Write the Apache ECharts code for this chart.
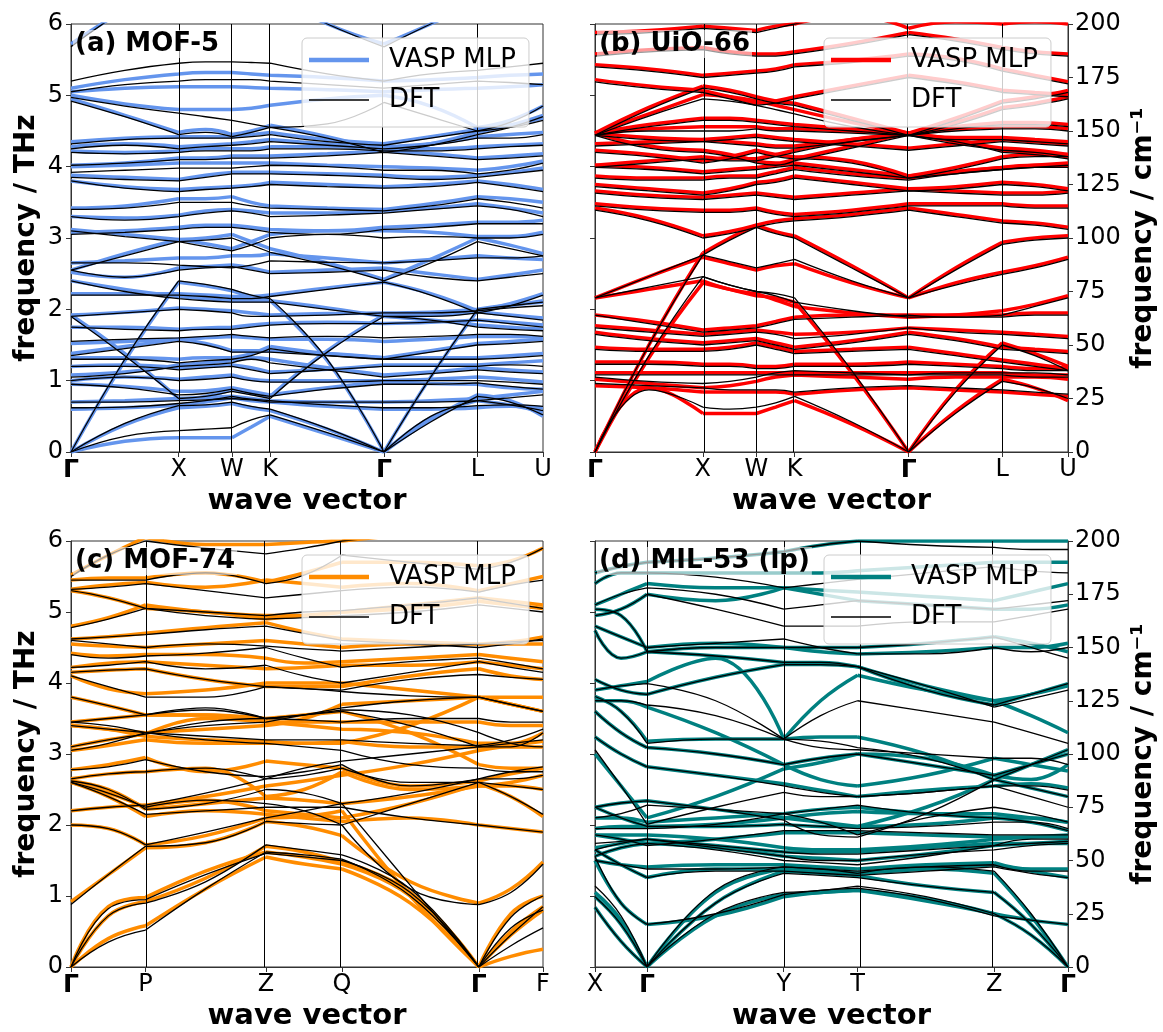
<!DOCTYPE html>
<html><head><meta charset="utf-8">
<script src="https://cdn.jsdelivr.net/npm/echarts@6/dist/echarts.min.js"></script>
<style>html,body{margin:0;padding:0;background:#fff}#c{width:1163px;height:1032px}</style>
</head><body><div id="c"></div>
<script>
// ---------- k-path (normalised path length) ----------
const kFCC = [0, 0.114, 0.228, 0.285, 0.341, 0.382, 0.422, 0.543, 0.663, 0.762, 0.861, 0.93, 1];
const hsFCC = [0, 0.228, 0.341, 0.422, 0.663, 0.861, 1];
const hsFCCLabels = ['Γ', 'X', 'W', 'K', 'Γ', 'L', 'U'];
const kMOF74 = [0, 0.079, 0.158, 0.285, 0.413, 0.494, 0.574, 0.719, 0.864, 0.932, 1];
const hsMOF74 = [0, 0.158, 0.413, 0.574, 0.864, 1];
const hsMOF74Labels = ['Γ', 'P', 'Z', 'Q', 'Γ', 'F'];
const kMIL53 = [0, 0.055, 0.110, 0.255, 0.399, 0.477, 0.555, 0.70, 0.844, 0.922, 1];
const hsMIL53 = [0, 0.110, 0.399, 0.555, 0.844, 1];
const hsMIL53Labels = ['X', 'Γ', 'Y', 'T', 'Z', 'Γ'];
const thzTicks = [0, 1, 2, 3, 4, 5, 6];
const cmTicks = [0, 25, 50, 75, 100, 125, 150, 175, 200];

// ---------- (a) MOF-5, THz ----------
const mof5DFT = [
[0,0.22,0.30,0.32,0.34,0.45,0.52,0.27,0,0.42,0.78,0.70,0.52],
[0,0.40,0.65,0.66,0.70,0.64,0.60,0.33,0,0.50,0.72,0.66,0.58],
[0.62,0.63,0.68,0.72,0.78,0.74,0.72,0.66,0.62,0.62,0.65,0.66,0.64],
[0.70,0.70,0.72,0.73,0.75,0.73,0.70,0.70,0.70,0.70,0.72,0.76,0.80],
[0,1.30,2.40,2.35,2.28,2.20,2.15,1.30,0,1.05,2.00,2.05,2.10],
[0.95,0.90,0.80,0.82,0.88,0.82,0.78,0.88,0.95,0.95,0.97,0.92,0.88],
[1.00,1.05,1.00,1.02,1.05,1.00,0.98,0.98,1.00,1.00,1.00,0.98,0.95],
[1.05,1.10,1.20,1.22,1.25,1.30,1.25,1.15,1.05,1.10,1.15,1.12,1.10],
[1.20,1.20,1.15,1.18,1.20,1.15,1.10,1.15,1.20,1.20,1.20,1.22,1.20],
[1.30,1.30,1.25,1.28,1.30,1.35,1.45,1.35,1.30,1.30,1.30,1.32,1.35],
[1.35,1.45,1.55,1.50,1.40,1.40,1.40,1.35,1.30,1.40,1.50,1.52,1.55],
[1.90,1.35,0.75,0.78,0.85,0.80,0.75,1.40,1.90,1.90,1.95,1.90,1.85],
[1.55,1.58,1.60,1.62,1.65,1.62,1.60,1.62,1.60,1.62,1.65,1.65,1.62],
[1.75,1.72,1.70,1.72,1.72,1.75,1.78,1.80,1.80,1.82,1.85,1.80,1.75],
[1.90,1.95,2.00,1.98,1.95,1.90,1.90,1.92,1.95,1.95,1.98,2.02,2.05],
[2.40,2.25,2.15,2.12,2.10,2.10,2.10,2.00,1.90,1.85,1.75,1.72,1.70],
[2.20,2.20,2.20,2.18,2.15,2.15,2.18,2.28,2.38,2.20,1.95,2.05,2.20],
[2.55,2.45,2.55,2.58,2.60,2.55,2.50,2.52,2.55,2.45,2.40,2.45,2.50],
[2.65,2.65,2.62,2.60,2.58,2.62,2.68,2.66,2.65,2.68,2.72,2.72,2.75],
[2.55,2.75,2.95,2.97,3.00,2.90,2.80,2.62,2.40,2.65,2.95,2.85,2.75],
[3.10,3.02,2.95,2.88,2.82,2.90,3.00,3.05,3.00,3.02,3.00,3.00,3.05],
[3.05,3.08,3.12,3.15,3.15,3.12,3.08,3.05,3.12,3.15,3.20,3.20,3.20],
[3.30,3.25,3.30,3.35,3.38,3.35,3.30,3.32,3.35,3.40,3.45,3.40,3.30],
[3.40,3.42,3.50,3.50,3.50,3.45,3.42,3.40,3.38,3.45,3.55,3.50,3.42],
[3.80,3.70,3.65,3.68,3.70,3.72,3.75,3.72,3.70,3.72,3.78,3.72,3.65],
[3.85,3.82,3.80,3.85,3.90,3.90,3.90,3.88,3.85,3.82,3.85,3.90,3.95],
[3.92,3.95,3.98,3.98,3.98,4.00,4.02,4.00,3.95,3.95,3.90,3.95,4.05],
[4.02,4.05,4.10,4.10,4.12,4.12,4.12,4.15,4.20,4.15,4.10,4.12,4.15],
[4.20,4.18,4.20,4.22,4.22,4.22,4.25,4.25,4.22,4.22,4.25,4.28,4.30],
[4.25,4.30,4.25,4.28,4.30,4.32,4.35,4.30,4.25,4.30,4.40,4.40,4.45],
[4.32,4.38,4.40,4.40,4.40,4.42,4.45,4.35,4.30,4.40,4.50,4.55,4.65],
[4.92,4.70,4.45,4.48,4.42,4.48,4.55,4.40,4.20,4.30,4.45,4.55,4.70],
[4.97,4.85,4.75,4.70,4.65,4.60,4.55,4.60,4.90,4.70,4.50,4.62,4.85],
[5.05,5.15,5.20,5.22,5.22,5.22,5.20,5.15,5.10,5.15,5.20,5.18,5.15],
[5.20,5.35,5.45,5.47,5.47,5.46,5.45,5.30,5.20,5.30,5.35,5.40,5.45],
[5.68,6.20,6.60,6.60,6.60,6.50,6.40,6.00,5.68,6.00,6.30,6.30,6.30]
];
const mof5MLP = [
[0,0.15,0.20,0.20,0.20,0.35,0.50,0.25,0,0.45,0.80,0.72,0.50],
[0,0.38,0.62,0.64,0.68,0.62,0.58,0.32,0,0.48,0.72,0.66,0.56],
[0.60,0.62,0.66,0.70,0.76,0.72,0.70,0.64,0.60,0.60,0.62,0.64,0.62],
[0.70,0.72,0.75,0.76,0.78,0.75,0.72,0.70,0.70,0.72,0.75,0.80,0.85],
[0,1.28,2.38,2.33,2.26,2.18,2.12,1.28,0,1.05,1.98,2.05,2.12],
[0.95,0.92,0.85,0.86,0.90,0.85,0.80,0.90,0.98,0.96,0.95,0.90,0.88],
[1.00,1.05,1.02,1.05,1.08,1.02,1.00,1.00,1.00,1.02,1.05,1.02,0.98],
[1.08,1.12,1.22,1.25,1.28,1.32,1.30,1.18,1.08,1.12,1.18,1.15,1.12],
[1.20,1.22,1.18,1.20,1.22,1.18,1.12,1.16,1.22,1.22,1.22,1.25,1.28],
[1.32,1.32,1.30,1.32,1.32,1.38,1.48,1.38,1.32,1.32,1.32,1.35,1.38],
[1.38,1.48,1.58,1.52,1.42,1.42,1.42,1.38,1.32,1.42,1.52,1.55,1.58],
[1.92,1.38,0.75,0.78,0.88,0.82,0.78,1.42,1.92,1.92,1.97,1.92,1.88],
[1.52,1.55,1.58,1.60,1.62,1.60,1.58,1.58,1.55,1.58,1.62,1.62,1.60],
[1.75,1.75,1.72,1.74,1.75,1.78,1.80,1.82,1.80,1.82,1.85,1.82,1.78],
[1.92,1.96,2.02,2.00,1.98,1.95,1.92,1.94,1.95,1.96,2.00,2.06,2.10],
[2.40,2.28,2.18,2.15,2.12,2.12,2.12,2.02,1.90,1.85,1.78,1.75,1.72],
[2.22,2.22,2.22,2.20,2.18,2.18,2.20,2.30,2.38,2.22,1.98,2.08,2.22],
[2.52,2.45,2.58,2.60,2.62,2.58,2.52,2.55,2.58,2.50,2.42,2.48,2.55],
[2.65,2.68,2.72,2.72,2.75,2.75,2.78,2.72,2.65,2.70,2.75,2.72,2.70],
[2.55,2.78,2.98,3.00,3.05,2.95,2.85,2.65,2.42,2.70,3.00,2.90,2.78],
[3.12,3.05,2.98,2.92,2.85,2.95,3.05,3.10,3.10,3.08,3.02,3.02,3.08],
[3.08,3.10,3.15,3.18,3.18,3.15,3.12,3.10,3.15,3.18,3.22,3.22,3.25],
[3.30,3.28,3.32,3.38,3.40,3.38,3.35,3.35,3.38,3.42,3.48,3.42,3.35],
[3.42,3.45,3.55,3.55,3.58,3.50,3.45,3.42,3.40,3.48,3.58,3.55,3.50],
[3.80,3.72,3.68,3.70,3.72,3.74,3.78,3.75,3.72,3.75,3.80,3.75,3.68],
[3.88,3.85,3.82,3.88,3.92,3.92,3.92,3.90,3.88,3.85,3.88,3.92,3.98],
[4.00,4.02,4.05,4.05,4.05,4.05,4.05,4.02,4.00,3.98,3.95,4.00,4.08],
[4.02,4.05,4.12,4.12,4.15,4.15,4.15,4.18,4.22,4.18,4.12,4.15,4.18],
[4.22,4.20,4.22,4.25,4.25,4.25,4.28,4.28,4.25,4.25,4.28,4.30,4.32],
[4.28,4.32,4.28,4.30,4.32,4.35,4.38,4.32,4.28,4.32,4.42,4.45,4.48],
[4.35,4.40,4.42,4.42,4.42,4.45,4.48,4.38,4.32,4.42,4.52,4.58,4.68],
[4.95,4.72,4.48,4.52,4.45,4.50,4.58,4.42,4.22,4.32,4.48,4.58,4.72],
[5.00,4.88,4.80,4.80,4.80,4.82,4.86,4.95,5.00,4.85,4.55,4.65,4.85],
[5.05,5.10,5.12,5.12,5.12,5.11,5.10,5.08,5.05,5.08,5.10,5.12,5.15],
[5.10,5.22,5.30,5.32,5.32,5.30,5.28,5.25,5.20,5.22,5.25,5.28,5.30],
[5.72,6.20,6.60,6.60,6.60,6.50,6.40,6.00,5.72,6.00,6.30,6.30,6.30]
];

// ---------- (b) UiO-66, cm^-1 ----------
const uio66DFT = [
[0,29,21,20,21,23,26,14,0,18,33,30,25],
[0,45,82,78,75,74,72,38,0,28,50,45,38],
[0,50,92,99,105,102,100,86,72,85,97,99,100],
[72,82,92,89,86,88,90,80,72,78,83,86,90],
[72,77,82,78,75,73,70,66,63,63,64,68,72],
[64,60,56,57,58,60,62,63,64,63,63,64,64],
[58,56,54,55,56,55,53,55,58,56,55,54,53],
[55,52,50,51,52,50,48,51,55,52,48,47,46],
[48,47,47,48,50,48,46,47,48,45,42,40,38],
[41,41,40,40,39,39,40,40,41,40,39,38,38],
[36,36,36,36,36,36,36,36,36,36,36,35,35],
[32,31,30,29,29,29,28,30,31,30,29,28,27],
[35,33,32,33,35,37,38,37,36,37,37,37,36],
[113,108,100,102,105,107,108,110,113,110,107,106,104],
[115,113,112,112,113,111,110,112,115,115,115,114,114],
[121,119,118,119,120,119,118,120,122,121,120,120,121],
[124,122,120,122,125,126,128,125,122,123,125,124,122],
[128,127,127,128,128,130,132,129,127,130,132,133,133],
[133,132,130,131,132,133,134,131,128,132,137,138,138],
[133,135,137,136,136,138,140,145,148,145,140,139,137],
[148,142,140,138,135,134,136,142,148,144,141,140,138],
[148,146,145,144,143,142,142,145,148,146,146,145,144],
[148,150,150,150,151,150,150,149,148,150,151,151,150],
[148,152,155,155,154,153,152,150,148,151,153,153,152],
[148,157,165,164,162,160,158,152,148,153,160,162,165],
[148,160,170,168,165,163,162,155,148,155,163,165,168],
[173,170,168,165,162,163,165,170,175,172,168,167,166],
[180,178,175,176,177,178,180,182,185,183,178,175,172],
[185,187,188,186,185,185,186,190,195,192,188,186,185],
[195,196,198,197,196,198,200,204,206,205,203,203,202],
[140,138,135,137,140,138,137,135,128,130,132,133,134],
[143,144,145,146,147,146,145,143,141,143,145,144,143]
];
const uio66MLP = [
[0,30,18,18,18,21,24,13,0,19,34,30,24],
[0,44,79,76,73,72,70,37,0,29,51,46,40],
[0,50,93,100,106,103,101,87,72,86,98,100,101],
[72,82,91,88,85,87,88,79,72,79,84,87,91],
[72,76,80,76,74,71,68,65,63,64,66,69,73],
[64,61,57,58,59,61,63,64,64,64,64,65,65],
[59,57,55,56,57,56,55,56,58,57,56,55,54],
[56,53,51,52,53,51,49,52,56,53,49,48,47],
[49,48,48,49,51,49,47,48,49,46,43,41,39],
[42,42,41,41,40,40,41,41,42,41,40,39,39],
[37,37,37,37,37,37,37,37,37,37,37,36,36],
[31,30,28,28,28,28,27,29,30,29,28,27,26],
[34,32,30,31,33,35,36,35,34,35,35,35,34],
[114,109,101,103,106,108,109,111,114,111,108,107,105],
[116,114,113,113,114,112,111,113,116,116,116,115,115],
[122,120,119,120,121,120,119,121,123,122,121,121,122],
[125,123,121,123,126,127,129,126,123,124,126,125,123],
[129,128,128,129,129,131,133,130,128,131,133,134,134],
[134,133,131,132,133,134,135,132,129,133,138,139,139],
[134,136,138,137,137,139,141,146,149,146,141,140,138],
[149,143,141,139,136,135,137,143,149,145,142,141,139],
[149,147,146,145,144,143,143,146,149,147,147,146,145],
[149,151,152,152,152,151,151,150,149,151,152,152,151],
[149,153,156,156,155,154,153,151,149,152,154,154,153],
[149,158,167,166,164,162,160,154,149,154,161,163,166],
[149,161,171,169,166,164,163,156,149,156,164,166,169],
[174,171,169,166,163,164,166,171,176,173,169,168,167],
[181,179,176,177,178,179,181,183,186,184,179,176,173],
[186,188,189,187,186,186,187,191,196,193,189,187,186],
[196,197,199,198,197,199,200,204,198,201,200,201,200],
[141,139,136,138,141,139,138,136,129,131,133,134,135],
[144,145,146,147,148,147,146,144,142,144,146,145,144]
];

// ---------- (c) MOF-74, THz ----------
const mof74DFT = [
[0,0.35,0.52,1.10,1.62,1.58,1.52,1.00,0,0.30,0.55],
[0,0.72,0.90,1.20,1.72,1.65,1.58,1.10,0,0.55,0.80],
[0,0.82,0.95,1.30,1.60,1.55,1.50,1.05,0,0.70,1.00],
[0.88,1.30,1.70,1.75,2.05,2.02,2.00,1.10,0.88,1.05,1.45],
[2.00,1.95,1.72,1.90,2.10,2.20,2.30,1.15,0,0.45,0.85],
[2.60,2.40,2.15,2.20,2.25,2.25,2.25,2.10,2.00,1.95,1.90],
[2.60,2.45,2.25,2.35,2.30,2.20,2.00,2.30,2.60,2.40,2.15],
[2.65,2.72,2.75,2.80,2.65,2.70,2.80,2.60,2.60,2.55,2.50],
[2.78,2.82,2.92,2.75,2.68,2.75,2.85,2.55,2.65,2.75,2.82],
[3.05,3.15,3.30,3.20,3.15,3.10,3.05,2.85,2.80,2.75,2.75],
[3.10,3.20,3.28,3.45,3.50,3.55,3.60,3.40,3.10,3.10,3.30],
[3.45,3.40,3.30,3.25,3.20,3.20,3.20,3.15,3.12,3.20,3.35],
[3.45,3.50,3.55,3.65,3.50,3.48,3.45,3.50,3.50,3.45,3.45],
[3.80,3.68,3.55,3.62,3.50,3.55,3.62,3.55,3.30,3.15,3.10],
[4.10,3.95,3.80,3.80,3.95,3.92,3.88,3.82,3.80,3.70,3.60],
[4.15,4.18,4.20,4.05,3.95,3.92,3.90,4.05,4.12,4.08,4.05],
[4.22,4.25,4.30,4.20,4.25,4.10,4.00,4.15,4.30,4.22,4.15],
[4.40,4.35,4.38,4.42,4.50,4.35,4.22,4.30,4.35,4.28,4.20],
[4.60,4.55,4.50,4.55,4.52,4.48,4.45,4.50,4.55,4.58,4.60],
[4.62,4.65,4.68,4.75,4.80,4.70,4.60,4.55,4.50,4.55,4.62],
[4.78,4.90,5.05,4.95,4.90,4.92,4.95,5.00,5.10,5.05,5.00],
[5.30,5.20,5.05,5.00,4.95,5.00,5.02,5.10,5.20,5.12,5.05],
[5.32,5.35,5.40,5.30,5.20,5.25,5.30,5.35,5.28,5.38,5.45],
[5.45,5.45,5.45,5.55,5.40,5.52,5.80,5.70,5.60,5.70,5.90],
[5.50,5.80,6.00,5.90,5.82,5.90,6.00,6.10,6.20,6.20,6.20],
[2.62,2.50,2.22,2.30,2.50,2.45,2.30,2.45,2.65,2.65,2.70],
[3.40,3.35,3.30,3.40,3.45,3.55,3.65,3.75,3.80,3.70,3.60],
[2.20,2.25,2.28,2.45,2.65,2.80,2.90,3.00,3.10,3.15,3.20]
];
const mof74MLP = [
[0,0.40,0.58,1.10,1.55,1.45,1.38,0.90,0,0.15,0.25],
[0,0.72,0.92,1.25,1.70,1.62,1.48,1.05,0,0.50,0.85],
[0,0.85,0.98,1.35,1.62,1.55,1.45,1.00,0,0.75,1.00],
[0.92,1.30,1.68,1.75,2.05,1.98,1.85,1.20,0.90,1.10,1.48],
[2.00,1.95,1.72,1.85,2.10,2.12,2.20,1.00,0,0.45,0.80],
[2.60,2.40,2.12,2.20,2.15,2.10,2.05,2.10,2.00,1.95,1.90],
[2.60,2.45,2.25,2.35,2.20,2.15,2.10,2.30,2.58,2.40,2.12],
[2.65,2.72,2.75,2.80,2.40,2.50,2.75,2.50,2.55,2.55,2.50],
[2.78,2.85,2.95,2.75,2.90,2.85,2.80,2.55,2.62,2.72,2.80],
[3.05,3.12,3.20,3.15,3.15,3.15,3.18,3.10,3.10,3.10,3.10],
[3.10,3.20,3.28,3.50,3.45,3.40,3.35,3.30,3.15,3.15,3.30],
[3.40,3.35,3.25,3.20,3.18,3.15,3.15,3.40,3.80,3.80,3.80],
[3.45,3.50,3.55,3.55,3.45,3.45,3.45,3.45,3.45,3.40,3.40],
[3.80,3.68,3.55,3.55,3.50,3.55,3.60,3.30,2.85,2.80,2.80],
[4.10,3.92,3.85,3.90,4.00,4.00,4.00,3.90,3.80,3.70,3.60],
[4.15,4.18,4.20,4.05,3.95,3.95,3.95,4.10,4.20,4.10,4.05],
[4.22,4.28,4.30,4.25,4.20,4.22,4.25,4.25,4.30,4.25,4.20],
[4.42,4.38,4.40,4.40,4.35,4.28,4.30,4.35,4.40,4.35,4.30],
[4.55,4.52,4.50,4.55,4.60,4.55,4.50,4.55,4.55,4.55,4.55],
[4.62,4.65,4.70,4.78,4.85,4.72,4.62,4.58,4.55,4.58,4.65],
[4.80,4.92,5.10,5.00,4.95,4.95,5.00,5.05,5.15,5.10,5.05],
[5.30,5.20,5.05,5.00,4.90,4.95,5.00,5.10,5.20,5.15,5.10],
[5.32,5.38,5.42,5.35,5.45,5.40,5.35,5.40,5.30,5.40,5.50],
[5.45,5.48,5.48,5.55,5.42,5.55,5.70,5.70,5.65,5.72,5.90],
[5.52,5.80,6.05,5.95,5.95,5.98,6.00,6.10,6.20,6.20,6.20],
[2.62,2.50,2.22,2.30,2.38,2.35,2.30,2.40,2.55,2.60,2.70],
[3.40,3.35,3.30,3.35,3.40,3.50,3.70,3.75,3.80,3.70,3.60],
[2.20,2.25,2.28,2.40,2.55,2.62,2.70,2.85,3.05,3.12,3.18]
];

// ---------- (d) MIL-53 (lp), cm^-1 ----------
const mil53DFT = [
[28,12,0,25,35,36,38,33,25,15,0],
[33,20,0,30,44,43,42,38,35,20,0],
[38,24,0,36,47,46,44,47,45,25,0],
[52,30,20,25,34,36,37,32,24,22,20],
[55,48,42,45,45,44,43,45,47,44,42],
[50,48,46,46,47,46,45,47,48,45,45],
[55,58,60,56,52,50,50,53,55,57,58],
[52,56,58,55,50,49,48,52,57,58,59],
[58,59,60,57,54,53,53,55,57,60,60],
[75,70,66,66,67,66,65,66,68,68,65],
[65,65,65,67,72,68,62,70,75,72,68],
[70,72,76,74,72,74,76,72,70,68,64],
[102,85,67,75,82,80,80,82,85,80,75],
[108,100,94,90,85,82,80,82,85,85,83],
[120,110,103,100,95,98,100,95,90,95,100],
[127,120,105,107,107,106,103,98,88,95,102],
[125,125,123,118,107,103,102,100,98,98,95],
[130,132,133,125,107,118,125,120,115,110,105],
[135,130,128,136,142,142,141,132,122,126,130],
[158,145,148,146,143,143,141,130,123,128,133],
[160,155,150,152,154,150,147,147,150,148,150],
[168,165,148,150,150,150,150,152,155,150,145],
[165,168,175,168,160,160,160,162,162,165,168],
[170,175,178,175,168,170,172,170,168,170,172],
[180,185,185,183,178,180,182,185,188,186,185],
[185,188,190,192,195,198,200,198,197,196,196],
[62,60,57,60,64,64,64,63,62,62,62],
[75,77,78,74,69,62,61,72,88,84,80]
];
const mil53MLP = [
[28,12,0,24,34,35,36,32,25,15,0],
[33,20,0,30,45,44,43,38,35,20,0],
[35,22,0,35,46,45,44,46,44,24,0],
[50,30,20,24,33,35,36,31,25,22,20],
[55,48,42,46,46,45,44,46,48,45,42],
[50,48,47,48,48,47,46,48,49,46,46],
[56,58,60,57,54,54,54,56,58,58,58],
[52,56,58,56,52,51,50,53,57,58,59],
[62,62,62,60,56,55,55,57,60,61,62],
[75,70,66,66,67,66,66,67,70,70,68],
[65,66,66,67,70,72,73,72,72,70,68],
[70,70,68,70,72,74,75,72,70,68,64],
[100,85,70,80,93,96,100,98,90,88,95],
[108,100,94,90,86,83,80,83,85,86,84],
[120,110,103,100,95,98,100,95,90,95,100],
[127,120,106,107,107,108,108,100,88,95,102],
[125,125,122,110,95,88,85,90,98,95,92],
[130,132,134,145,107,125,137,130,125,118,110],
[135,130,128,136,142,142,141,132,125,128,132],
[158,145,148,146,143,143,141,130,123,128,133],
[160,155,150,152,150,148,147,148,150,150,152],
[168,165,148,150,150,150,150,152,155,152,148],
[165,168,175,172,178,175,172,170,168,168,170],
[170,175,180,178,178,177,176,174,172,176,180],
[180,185,185,185,185,185,186,188,190,190,190],
[185,188,190,192,195,198,200,200,200,200,200],
[62,60,58,60,63,63,63,62,61,61,61],
[75,77,78,74,70,68,66,75,88,84,80]
];

// ---------- panel setup ----------
const FONT = 'DejaVu Sans';
const panels = [
  {id:'a', title:'(a) MOF-5', k:kFCC, hs:hsFCC, hsLab:hsFCCLabels, dft:mof5DFT, mlp:mof5MLP, color:'#6495ED', cm:false,
   grid:{left:71, top:24, width:472, height:428}, legend:{left:302, top:38}, titlePos:{left:73, top:30}},
  {id:'b', title:'(b) UiO-66', k:kFCC, hs:hsFCC, hsLab:hsFCCLabels, dft:uio66DFT, mlp:uio66MLP, color:'#FF0000', cm:true,
   grid:{left:595, top:24, width:473, height:428}, legend:{left:824, top:38}, titlePos:{left:597, top:30}},
  {id:'c', title:'(c) MOF-74', k:kMOF74, hs:hsMOF74, hsLab:hsMOF74Labels, dft:mof74DFT, mlp:mof74MLP, color:'#FF8C00', cm:false,
   grid:{left:71, top:541, width:472, height:426}, legend:{left:302, top:555}, titlePos:{left:73, top:547}},
  {id:'d', title:'(d) MIL-53 (lp)', k:kMIL53, hs:hsMIL53, hsLab:hsMIL53Labels, dft:mil53DFT, mlp:mil53MLP, color:'#008080', cm:true,
   grid:{left:595, top:541, width:473, height:426}, legend:{left:824, top:555}, titlePos:{left:597, top:547}}
];

const axisLineStyle = {show:true, lineStyle:{color:'#333', width:1}};
const tickStyle = {show:true, inside:false, length:5, lineStyle:{color:'#333', width:1}};

function segData(k, hs, vals){
  const out = [];
  for (let i = 0; i < k.length; i++) {
    out.push([k[i], vals[i]]);
    const isHs = hs.some(h => Math.abs(h - k[i]) < 1e-9);
    if (isHs && i > 0 && i < k.length - 1) { out.push([k[i], '-']); out.push([k[i], vals[i]]); }
  }
  return out;
}

const option = {animation:false, backgroundColor:'#fff', grid:[], xAxis:[], yAxis:[], series:[], legend:[], title:[]};

panels.forEach((p, gi) => {
  option.grid.push(Object.assign({show:true, borderColor:'#333', borderWidth:1, backgroundColor:'transparent', containLabel:false}, p.grid));
  const labOf = v => { const j = p.hs.findIndex(h => Math.abs(h - v) < 1e-6); return j < 0 ? '' : p.hsLab[j]; };
  option.xAxis.push({
    type:'value', gridIndex:gi, min:0, max:1,
    axisLine:axisLineStyle, splitLine:{show:false},
    axisTick:Object.assign({customValues:p.hs}, tickStyle),
    axisLabel:{customValues:p.hs, showMinLabel:true, showMaxLabel:true, margin:6, color:'#000', fontSize:24, fontFamily:FONT,
      formatter: v => { const l = labOf(v); return l === 'Γ' ? '{g|Γ}' : l; },
      rich:{g:{fontWeight:'bold', fontSize:25, fontFamily:FONT, color:'#000'}}},
    name:'wave vector', nameLocation:'middle', nameGap:35,
    nameTextStyle:{fontSize:29, fontWeight:'bold', fontFamily:FONT, color:'#000'}
  });
  const thzIdx = option.yAxis.length;
  option.yAxis.push({
    type:'value', gridIndex:gi, position:'left', min:thzTicks[0], max:thzTicks[thzTicks.length-1], interval:1,
    axisLine:axisLineStyle, axisTick:tickStyle, splitLine:{show:false},
    axisLabel:{show:!p.cm, margin:8, color:'#000', fontSize:24, fontFamily:FONT},
    name: p.cm ? '' : 'frequency / THz', nameLocation:'middle', nameGap:30, nameRotate:90,
    nameTextStyle:{fontSize:28, fontWeight:'bold', fontFamily:FONT, color:'#000'}
  });
  let dataIdx = thzIdx;
  if (p.cm) {
    dataIdx = option.yAxis.length;
    option.yAxis.push({
      type:'value', gridIndex:gi, position:'right', min:cmTicks[0], max:cmTicks[cmTicks.length-1], interval:25,
      axisLine:axisLineStyle, axisTick:tickStyle, splitLine:{show:false},
      axisLabel:{margin:7, color:'#000', fontSize:24, fontFamily:FONT},
      name:'frequency / cm⁻¹', nameLocation:'middle', nameGap:62, nameRotate:90,
      nameTextStyle:{fontSize:28, fontWeight:'bold', fontFamily:FONT, color:'#000'}
    });
  }
  const mlpName = p.id + ' MLP', dftName = p.id + ' DFT';
  p.mlp.forEach((band, bi) => {
    const s = {
      type:'line', name:mlpName, xAxisIndex:gi, yAxisIndex:dataIdx, data:segData(p.k, p.hs, band),
      symbol:'none', showSymbol:false, smooth:0.45, silent:true, z:2, clip:true,
      lineStyle:{color:p.color, width:3.5}, itemStyle:{color:p.color}, emphasis:{disabled:true}
    };
    if (bi === 0) {
      s.markLine = {silent:true, symbol:['none','none'], animation:false, label:{show:false},
        lineStyle:{color:'#000', width:1, type:'solid'}, emphasis:{disabled:true},
        data:p.hs.slice(1, -1).map(v => ({xAxis:v}))};
    }
    option.series.push(s);
  });
  p.dft.forEach(band => {
    option.series.push({
      type:'line', name:dftName, xAxisIndex:gi, yAxisIndex:dataIdx, data:segData(p.k, p.hs, band),
      symbol:'none', showSymbol:false, smooth:0.45, silent:true, z:3, clip:true,
      lineStyle:{color:'#000', width:1.3}, itemStyle:{color:'#000'}, emphasis:{disabled:true}
    });
  });
  option.legend.push({
    left:p.legend.left, top:p.legend.top, orient:'vertical', selectedMode:false,
    data:[
      {name:mlpName, icon:'path://M0,0H60V4.5H0Z', itemStyle:{color:p.color, borderWidth:0}},
      {name:dftName, icon:'path://M0,0H60V1.6H0Z', itemStyle:{color:'#000', borderWidth:0}}
    ],
    itemWidth:60, itemHeight:14, itemGap:14, padding:[9, 13, 14, 7],
    backgroundColor:'rgba(255,255,255,0.8)', borderColor:'#cccccc', borderWidth:1, borderRadius:5,
    textStyle:{fontSize:26, fontFamily:FONT, color:'#000', padding:[0,0,0,15]},
    formatter: n => n.endsWith('MLP') ? 'VASP MLP' : 'DFT', z:10
  });
  option.title.push({
    text:p.title, left:p.titlePos.left, top:p.titlePos.top, padding:[1,2],
    backgroundColor:'rgba(255,255,255,0.6)',
    textStyle:{fontSize:26, fontWeight:'bold', fontFamily:FONT, color:'#000'}, z:10
  });
});

const chart = echarts.init(document.getElementById('c'), null, {renderer:'canvas'});
chart.setOption(option);
</script></body></html>
